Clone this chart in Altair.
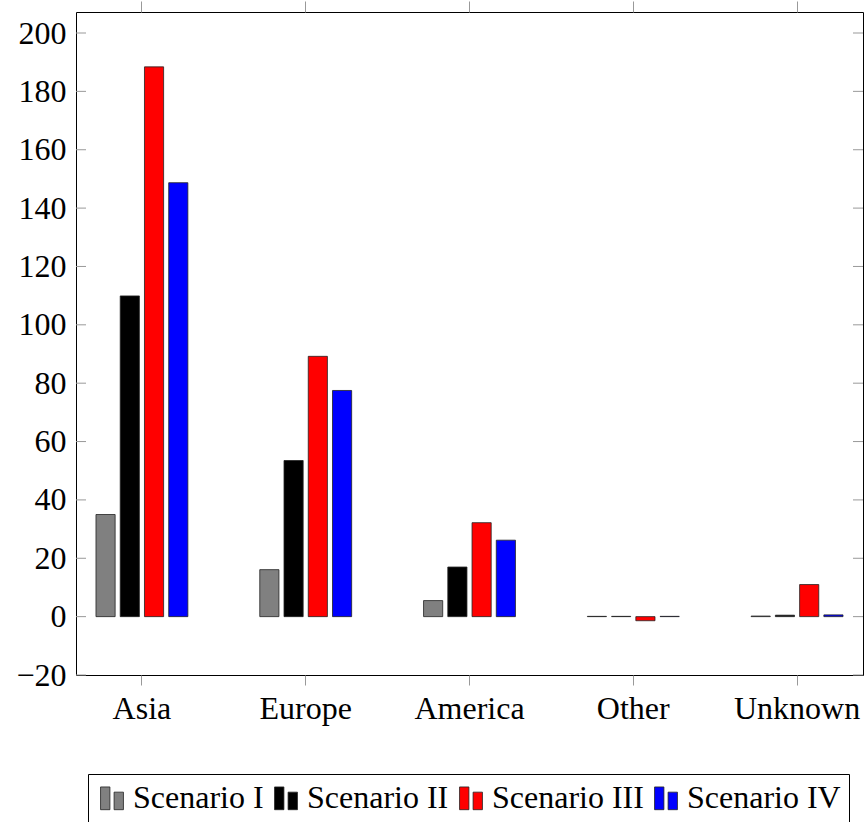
import altair as alt
import pandas as pd

# Regions on the x axis and the four scenarios drawn as grouped bars
regions = ["Asia", "Europe", "America", "Other", "Unknown"]
scenarios = ["Scenario I", "Scenario II", "Scenario III", "Scenario IV"]

scenario_1 = [35.0, 16.1, 5.5, 0.1, 0.2]
scenario_2 = [109.9, 53.5, 17.0, 0.1, 0.5]
scenario_3 = [188.4, 89.2, 32.2, -1.4, 11.0]
scenario_4 = [148.7, 77.5, 26.2, 0.1, 0.6]

colors = ["#808080", "#000000", "#ff0000", "#0000ff"]
y_ticks = [-20, 0, 20, 40, 60, 80, 100, 120, 140, 160, 180, 200]

rows = []
for name, series in zip(scenarios, [scenario_1, scenario_2, scenario_3, scenario_4]):
    for region, value in zip(regions, series):
        rows.append({"region": region, "scenario": name, "value": value})
df = pd.DataFrame(rows)
tick_df = pd.DataFrame({"tick": y_ticks})
region_df = pd.DataFrame({"region": regions})

W, H = 787, 663
FONT = "Liberation Serif"
FS = 32

x_scale = alt.Scale(paddingInner=0.439, paddingOuter=0.122)
y_scale = alt.Scale(domain=[-20, 207.2], nice=False, zero=False)
y_axis = alt.Axis(values=y_ticks, format="d", ticks=False, domain=False,
                  grid=False, labelPadding=10, labelFontSize=FS,
                  labelFont=FONT, labelColor="black")

# legend glyph: two bars of unequal height, as in a ybar legend
bar_glyph = ("M-0.88,-0.85 L-0.16,-0.85 L-0.16,0.9 L-0.88,0.9 Z "
             "M0.16,-0.45 L0.88,-0.45 L0.88,0.9 L0.16,0.9 Z")

bars = alt.Chart(df).mark_bar(stroke="#222222", strokeWidth=0.8).encode(
    x=alt.X("region:N", sort=regions, scale=x_scale, title=None,
            axis=alt.Axis(orient="bottom", labelAngle=0, domain=False,
                          ticks=True, tickSize=10, tickColor="#999999",
                          labelPadding=8, labelFontSize=FS, labelFont=FONT,
                          labelColor="black")),
    xOffset=alt.XOffset("scenario:N", sort=scenarios,
                        scale=alt.Scale(paddingInner=0.21, paddingOuter=0)),
    y=alt.Y("value:Q", scale=y_scale, title=None, axis=y_axis),
    color=alt.Color("scenario:N", sort=scenarios,
                    scale=alt.Scale(domain=scenarios, range=colors),
                    legend=alt.Legend(orient="none", legendX=12, legendY=762,
                                      direction="horizontal", title=None,
                                      strokeColor="black", padding=8,
                                      symbolType=bar_glyph, symbolSize=676,
                                      symbolStrokeColor="#222222",
                                      symbolStrokeWidth=0.8, symbolOpacity=1,
                                      labelFont=FONT, labelFontSize=FS,
                                      labelColor="black", labelOffset=5,
                                      columnPadding=6, labelLimit=300)),
)

# top axis: outward ticks only
top_axis = alt.Chart(region_df).mark_point(opacity=0).encode(
    x=alt.X("region:N", sort=regions, scale=x_scale, title=None,
            axis=alt.Axis(orient="top", labels=False, domain=False,
                          ticks=True, tickSize=11, tickColor="#999999")),
)

# inward y ticks on the left and right frame edges
left_ticks = alt.Chart(tick_df).mark_rule(color="#999999", strokeWidth=1).encode(
    y=alt.Y("tick:Q", scale=y_scale, title=None, axis=y_axis),
    x=alt.value(0), x2=alt.value(10),
)
right_ticks = alt.Chart(tick_df).mark_rule(color="#999999", strokeWidth=1).encode(
    y=alt.Y("tick:Q", scale=y_scale, title=None, axis=y_axis),
    x=alt.value(W - 10), x2=alt.value(W),
)

chart = alt.layer(bars, top_axis, left_ticks, right_ticks).resolve_axis(
    x="independent"
).properties(
    width=W, height=H,
    background="white",
    autosize=alt.AutoSizeParams(type="none"),
    padding={"left": 76, "top": 12, "right": 1, "bottom": 147},
).configure_view(
    stroke="black", strokeWidth=1
)

chart.save("out.html", embed_options={"renderer": "svg", "actions": False})
